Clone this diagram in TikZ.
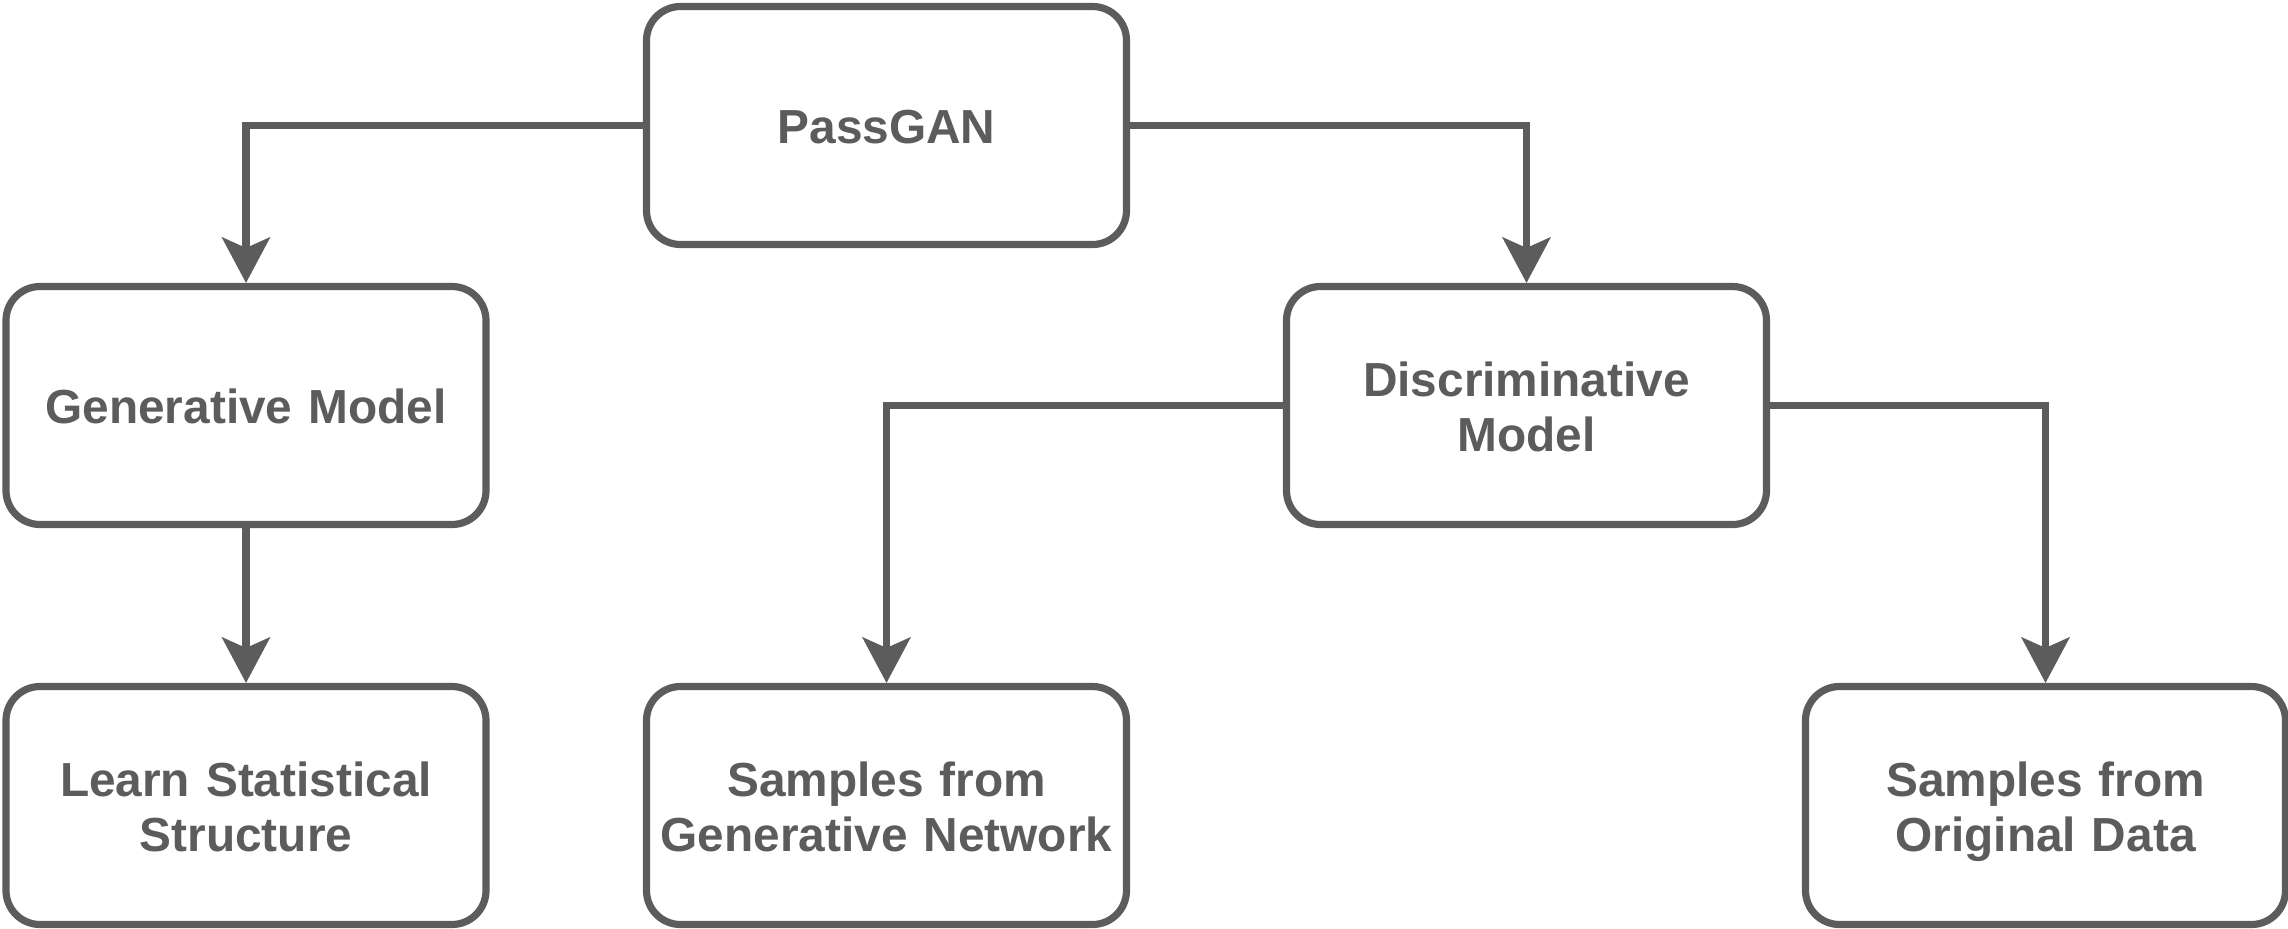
\documentclass[tikz,border=0pt]{standalone}
\usepackage{fontspec}
\setmainfont{Liberation Sans}
\usetikzlibrary{arrows.meta}
\definecolor{ink}{RGB}{92,92,92}
\tikzset{
  box/.style={draw=ink, line width=3.6pt, rounded corners=17pt, fill=white,
    minimum width=240pt, minimum height=119pt, inner sep=0pt,
    text width=236pt, align=center, text=ink,
    font=\fontsize{23.9pt}{27.7pt}\selectfont\bfseries,
    execute at begin node={\rule{0pt}{24.4pt}},
    execute at end node={\rule[-6pt]{0pt}{6pt}}},
  conn/.style={draw=ink, line width=3.6pt,
    -{Stealth[length=23pt, width=24.5pt, inset=5.5pt, line width=0pt]}}
}
\begin{document}
\begin{tikzpicture}[x=0.5pt, y=-0.5pt]
\useasboundingbox (0,0) rectangle (2288,928);
\node[box] (pg)    at (886.5,125.5) {PassGAN};
\node[box] (gen)   at (246,405.5)   {Generative Model};
\node[box] (disc)  at (1526.5,405.5) {Discriminative\\Model};
\node[box] (learn) at (246,805.5)   {Learn Statistical\\Structure};
\node[box] (sgen)  at (886.5,805.5) {Samples from\\Generative Network};
\node[box] (sorig) at (2045.5,805.5) {Samples from\\Original Data};
\draw[conn] (pg.west) -| (gen.north);
\draw[conn] (pg.east) -| (disc.north);
\draw[conn] (gen.south) -- (learn.north);
\draw[conn] (disc.west) -| (sgen.north);
\draw[conn] (disc.east) -| (sorig.north);
\end{tikzpicture}
\end{document}
